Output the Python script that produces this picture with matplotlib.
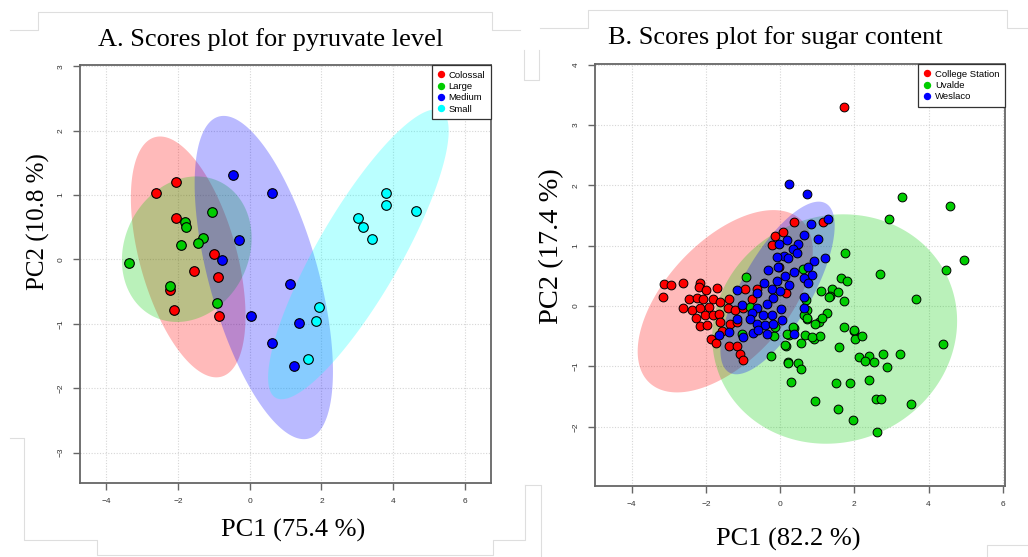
import matplotlib
matplotlib.use("Agg")
import matplotlib.pyplot as plt
import numpy as np
from matplotlib.lines import Line2D

# ---------------------------------------------------
# Panel A: pyruvate level scores
# ---------------------------------------------------
colossal_x = [-2.06, -2.61, -2.07, -1.00, -1.57, -0.88, -2.24, -2.11, -0.85]
colossal_y = [1.21, 1.03, 0.64, 0.08, -0.18, -0.27, -0.48, -0.79, -0.87]
large_x = [-3.37, -1.05, -1.81, -1.79, -1.31, -1.45, -1.93, -2.23, -0.91]
large_y = [-0.05, 0.73, 0.59, 0.51, 0.34, 0.25, 0.22, -0.41, -0.67]
medium_x = [-0.47, 0.63, -0.30, -0.77, 1.13, 0.04, 1.36, 0.61, 1.23]
medium_y = [1.31, 1.04, 0.31, -0.01, -0.38, -0.87, -0.99, -1.29, -1.66]
small_x = [3.79, 3.79, 4.65, 3.03, 3.16, 3.40, 1.92, 1.86, 1.63]
small_y = [1.03, 0.84, 0.75, 0.64, 0.50, 0.32, -0.73, -0.95, -1.54]

# ellipses: centre x, centre y, half width, half height, correlation
ell_a = {
    "Colossal": (-1.72, 0.04, 1.60, 1.87, -0.49),
    "Large": (-1.76, 0.16, 1.81, 1.13, 0.15),
    "Medium": (0.39, -0.28, 1.93, 2.51, -0.58),
    "Small": (3.03, 0.08, 2.52, 2.25, 0.85),
}

# ---------------------------------------------------
# Panel B: sugar content scores
# ---------------------------------------------------
college_x = [-3.13, -2.95, -3.15, -2.61, -2.17, -2.20, -1.99, -1.69, -2.45, -2.23, -2.07, -1.81,
             -2.62, -2.38, -2.17, -1.91, -1.62, -1.37, -0.94, -0.63, 0.15, -2.26, -2.02, -1.81,
             -1.64, -1.41, -1.21, -0.99, -0.76, -2.17, -1.98, -1.62, -1.35, -1.17, -1.57, -1.87,
             -1.73, -1.39, -1.15, -1.08, -0.99, -0.14, 0.09, 0.38, 1.15, -0.02, -0.21, 1.73]
college_y = [0.37, 0.35, 0.15, 0.39, 0.39, 0.31, 0.27, 0.30, 0.11, 0.14, 0.11, 0.11,
             -0.04, -0.07, -0.04, -0.01, 0.07, 0.12, 0.28, 0.29, 0.22, -0.19, -0.15, -0.15,
             -0.13, -0.04, -0.07, -0.03, 0.11, -0.33, -0.32, -0.26, -0.30, -0.26, -0.41, -0.54,
             -0.61, -0.66, -0.66, -0.80, -0.90, 1.16, 1.23, 1.39, 1.40, 0.65, 1.01, 3.30]
uvalde_x = [3.29, 4.59, 2.94, 1.76, 4.95, 4.46, 2.70, 1.65, 1.79, -0.91, 0.62, 1.40, 1.11, 1.56,
            1.34, 1.71, 3.65, 0.73, 1.25, 1.04, 0.73, 1.73, 2.00, 2.01, 2.21, 0.37, 0.23, 0.57,
            0.91, 1.07, 0.66, -0.17, 0.16, -0.25, 1.59, 2.13, 2.40, 2.30, 2.54, 2.76, 2.88, 3.23,
            4.39, 0.22, 0.48, 0.56, 0.29, 1.51, 1.89, 2.40, 0.95, 1.55, 1.97, 2.58, 2.71, 3.53,
            2.61, -1.04, -0.80, -0.13, 0.69, 0.64, 0.18, 0.36, 1.33, 0.72, 1.12, 0.94, 1.98,
            0.85, 0.13, 0.21]
uvalde_y = [1.81, 1.66, 1.45, 0.88, 0.76, 0.60, 0.53, 0.47, 0.42, 0.48, 0.62, 0.29, 0.25, 0.23,
            0.17, 0.08, 0.11, -0.07, -0.12, -0.26, -0.21, -0.34, -0.41, -0.55, -0.50, -0.37, -0.48, -0.61,
            -0.55, -0.49, -0.48, -0.50, -0.66, -0.83, -0.68, -0.84, -0.83, -0.91, -0.93, -0.79, -1.01, -0.80,
            -0.63, -0.93, -0.95, -1.04, -1.25, -1.27, -1.28, -1.22, -1.58, -1.71, -1.89, -1.54, -1.54, -1.62,
            -2.09, -0.47, -0.01, -0.34, 0.10, -0.15, -0.46, -0.34, 0.15, -0.20, -0.20, -0.29, -0.39,
            -0.51, -0.65, -0.94]
weslaco_x = [1.30, 0.83, 0.65, 1.03, -0.02, 0.18, 0.49, 0.34, 0.45, 0.11, -0.09, 0.22, 1.21, 0.90,
             0.76, -0.34, -0.05, 0.38, 0.85, 0.63, 0.13, -0.09, -0.43, 0.25, 0.76, -1.17, -0.63, -0.22,
             0.00, -0.18, -0.36, -1.03, -0.63, 0.65, 0.63, 0.02, -0.76, -1.17, -0.81, -0.45, -0.22, 0.05,
             -0.63, -0.40, -0.18, -1.39, -1.66, -0.99, -0.72, -0.36, -0.61, 0.38, 0.24, 0.73]
weslaco_y = [1.44, 1.36, 1.18, 1.11, 1.03, 1.10, 1.03, 0.94, 0.88, 0.83, 0.81, 0.79, 0.79, 0.74,
             0.65, 0.60, 0.65, 0.57, 0.51, 0.46, 0.50, 0.42, 0.38, 0.35, 0.38, 0.27, 0.22, 0.28,
             0.25, 0.13, 0.04, 0.02, -0.04, 0.15, -0.04, -0.05, -0.12, -0.22, -0.22, -0.15, -0.15, -0.23,
             -0.29, -0.32, -0.30, -0.43, -0.48, -0.51, -0.45, -0.46, -0.40, -0.46, 2.03, 1.86]

ell_b = {
    "College Station": (-1.48, 0.08, 2.36, 1.51, 0.55),
    "Uvalde": (1.47, -0.38, 3.30, 1.90, 0.07),
    "Weslaco": (-0.07, 0.30, 1.54, 1.43, 0.72),
}

RED = "#ff0000"
GREEN = "#00cd00"
BLUE = "#0000ff"
CYAN = "#00ffff"

plt.rcParams["font.family"] = ["Liberation Sans", "DejaVu Sans"]
SERIF = ["Liberation Serif", "DejaVu Serif"]


def draw_ellipse(ax, p, col):
    cx, cy, hx, hy, r = p
    t = np.linspace(0, 2 * np.pi, 240)
    ex = cx + hx * np.cos(t)
    ey = cy + hy * (r * np.cos(t) + np.sqrt(1 - r * r) * np.sin(t))
    ax.fill(ex, ey, color=col, alpha=0.27, lw=0, zorder=1)


def style_axes(ax, xlim, ylim, xt, yt):
    ax.set_xlim(*xlim)
    ax.set_ylim(*ylim)
    ax.set_xticks(xt)
    ax.set_yticks(yt)
    ax.grid(True, color="#d6d6d6", ls=(0, (1, 1.5)), lw=0.8, zorder=0)
    ax.set_axisbelow(True)
    for s in ax.spines.values():
        s.set_color("#666666")
        s.set_linewidth(1.3)
    ax.tick_params(length=5, width=1.0, color="#666666", labelsize=6,
                   labelcolor="#333333", pad=6)
    for lab in ax.get_yticklabels():
        lab.set_rotation(90)
        lab.set_va("center")


def legend(ax, names, cols):
    handles = [Line2D([], [], ls="none", marker="o", ms=4.3, color=c) for c in cols]
    lg = ax.legend(handles, names, loc="upper right", borderaxespad=0, fontsize=6.8,
                   frameon=True, fancybox=False, framealpha=1, edgecolor="#333333",
                   handlelength=0.8, handletextpad=0.4, labelspacing=0.25,
                   borderpad=0.6)
    lg.get_frame().set_linewidth(0.9)
    lg.set_zorder(5)


fig = plt.figure(figsize=(10.28, 5.57), dpi=100)

# ---- panel A
ax1 = fig.add_axes([0.0778, 0.1329, 0.3998, 0.7504])
groups_a = [
    ("Colossal", colossal_x, colossal_y, RED),
    ("Large", large_x, large_y, GREEN),
    ("Medium", medium_x, medium_y, BLUE),
    ("Small", small_x, small_y, CYAN),
]
for name, gx, gy, col in groups_a:
    draw_ellipse(ax1, ell_a[name], col)
for name, gx, gy, col in groups_a:
    ax1.scatter(gx, gy, s=48, c=col, edgecolors="black", linewidths=0.8, zorder=3)
style_axes(ax1, (-4.74, 6.73), (-3.47, 3.02), [-4, -2, 0, 2, 4, 6], [-3, -2, -1, 0, 1, 2, 3])
legend(ax1, [g[0] for g in groups_a], [g[3] for g in groups_a])

# ---- panel B
ax2 = fig.add_axes([0.5788, 0.1275, 0.3988, 0.7576])
groups_b = [
    ("College Station", college_x, college_y, RED),
    ("Uvalde", uvalde_x, uvalde_y, GREEN),
    ("Weslaco", weslaco_x, weslaco_y, BLUE),
]
for name, gx, gy, col in groups_b:
    draw_ellipse(ax2, ell_b[name], col)
for name, gx, gy, col in groups_b:
    ax2.scatter(gx, gy, s=40, c=col, edgecolors="black", linewidths=0.7, zorder=3)
style_axes(ax2, (-4.99, 6.06), (-2.98, 4.01), [-4, -2, 0, 2, 4, 6], [-2, -1, 0, 1, 2, 3, 4])
legend(ax2, [g[0] for g in groups_b], [g[3] for g in groups_b])

# titles and axis labels
fig.text(271 / 1028, 1 - 40 / 557, "A. Scores plot for pyruvate level", family=SERIF,
         fontsize=19, ha="center", va="center")
fig.text(775 / 1028, 1 - 38 / 557, "B. Scores plot for sugar content", family=SERIF,
         fontsize=19, ha="center", va="center")
fig.text(293 / 1028, 1 - 530 / 557, "PC1 (75.4 %)", family=SERIF, fontsize=19,
         ha="center", va="center")
fig.text(788 / 1028, 1 - 539 / 557, "PC1 (82.2 %)", family=SERIF, fontsize=19,
         ha="center", va="center")
fig.text(38 / 1028, 1 - 222 / 557, "PC2 (10.8 %)", family=SERIF, fontsize=18,
         rotation=90, ha="center", va="center")
fig.text(552 / 1028, 1 - 246 / 557, "PC2 (17.4 %)", family=SERIF, fontsize=20.5,
         rotation=90, ha="center", va="center")

# faint frames of the pasted panels
frame_lines = [
    ([10, 38, 38, 492, 492, 520], [30, 30, 12, 12, 30, 30]),
    ([10, 24, 24, 97, 97, 493, 493, 525, 525], [438, 438, 540, 540, 555, 555, 540, 540, 485]),
    ([540, 588, 588, 1007, 1007, 1028], [28, 28, 10, 10, 28, 28]),
    ([524, 524, 539, 539], [50, 80, 80, 50]),
    ([541, 541, 525], [557, 485, 485]),
    ([1028, 987, 987], [545, 545, 557]),
]
for fx, fy in frame_lines:
    fig.add_artist(Line2D([v / 1028 for v in fx], [1 - v / 557 for v in fy],
                          color="#dedede", lw=0.8))

fig.savefig("out.png", dpi=100)
